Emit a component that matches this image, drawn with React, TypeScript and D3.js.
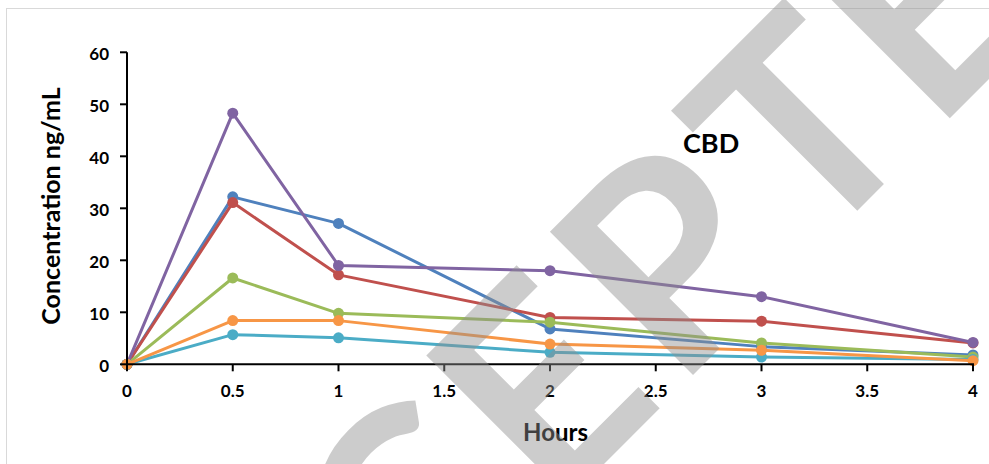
import React from "react";
import * as d3 from "d3";

// ---- data ----
const hours = [0, 0.5, 1, 2, 3, 4];
const seriesBlue = [0, 32.2, 27.1, 6.8, 3.4, 1.8];
const seriesRed = [0, 31.1, 17.2, 9.0, 8.3, 4.1];
const seriesGreen = [0, 16.6, 9.8, 8.1, 4.1, 1.4];
const seriesPurple = [0, 48.3, 19.0, 18.0, 13.0, 4.2];
const seriesCyan = [0, 5.7, 5.1, 2.3, 1.4, 0.9];
const seriesOrange = [0, 8.4, 8.4, 3.9, 2.7, 0.7];
const seriesColors = ["#4F81BD", "#C0504D", "#9BBB59", "#8064A2", "#4BACC6", "#F79646"];
const allSeries = [seriesBlue, seriesRed, seriesGreen, seriesPurple, seriesCyan, seriesOrange];
const xTicks = [0, 0.5, 1, 1.5, 2, 2.5, 3, 3.5, 4];
const yTicks = [0, 10, 20, 30, 40, 50, 60];
const xTitle = "Hours";
const yTitle = "Concentration ng/mL";
const chartLabel = "CBD";
const watermarkLetters = ["C", "E", "P", "T", "E"];

// ---- layout ----
const W = 989;
const H = 464;
const plot = { left: 127, right: 973, top: 52.3, bottom: 364.3 };
const FONT = "Lato, 'Open Sans', sans-serif";
// watermark baseline: x + y = C, positions along baseline (u)
const WM_C = 1068;
const WM_U = [-76, 108, 289, 476, 646];

export default function App() {
  const x = d3.scaleLinear().domain([0, 4]).range([plot.left, plot.right]);
  const y = d3.scaleLinear().domain([0, 60]).range([plot.bottom, plot.top]);
  const line = d3
    .line<number>()
    .x((_, i) => x(hours[i]))
    .y((d) => y(d));

  return (
    <div style={{ position: "absolute", left: 0, top: 0 }}>
      <svg width={W} height={H} style={{ display: "block", background: "#fff" }}>
        <rect x={6.5} y={8.5} width={W + 20} height={H + 20} fill="#fff" stroke="#d9d9d9" strokeWidth={1} />

        {/* series */}
        {allSeries.map((s, si) => (
          <g key={si}>
            <path d={line(s) || ""} fill="none" stroke={seriesColors[si]} strokeWidth={3} strokeLinejoin="round" />
            {s.map((v, i) => (
              <circle key={i} cx={x(hours[i])} cy={y(v)} r={5.5} fill={seriesColors[si]} />
            ))}
          </g>
        ))}

        {/* axes */}
        <line x1={plot.left} x2={plot.left} y1={plot.top} y2={plot.bottom + 1} stroke="#000" strokeWidth={2} />
        <line x1={plot.left - 1} x2={plot.right + 1} y1={plot.bottom} y2={plot.bottom} stroke="#000" strokeWidth={2} />
        {yTicks.map((t) => (
          <g key={"y" + t}>
            <line x1={plot.left - 7} x2={plot.left} y1={y(t)} y2={y(t)} stroke="#000" strokeWidth={2} />
            <text x={109} y={y(t) + 8} textAnchor="end" fontFamily={FONT} fontWeight={700} fontSize={17} fill="#000">
              {t}
            </text>
          </g>
        ))}
        {xTicks.map((t) => (
          <g key={"x" + t}>
            <line x1={x(t)} x2={x(t)} y1={plot.bottom} y2={plot.bottom + 7} stroke="#000" strokeWidth={2} />
            <text x={x(t)} y={397} textAnchor="middle" fontFamily={FONT} fontWeight={700} fontSize={17} fill="#000">
              {t}
            </text>
          </g>
        ))}

        {/* titles */}
        <text x={555.5} y={440.7} textAnchor="middle" fontFamily={FONT} fontWeight={700} fontSize={24} fill="#000">
          {xTitle}
        </text>
        <text
          transform={`translate(60,206) rotate(-90)`}
          textAnchor="middle"
          fontFamily={FONT}
          fontWeight={700}
          fontSize={25}
          fill="#000"
        >
          {yTitle}
        </text>
        <text x={683} y={152.7} fontFamily={FONT} fontWeight={700} fontSize={27} fill="#000">
          {chartLabel}
        </text>

        {/* watermark */}
        <g fill="#8e8e8e" fillOpacity={0.45}>
          {watermarkLetters.map((ch, i) => {
            const u = WM_U[i];
            const bx = WM_C / 2 + u / Math.SQRT2;
            const by = WM_C / 2 - u / Math.SQRT2;
            return (
              <text
                key={i}
                transform={`translate(${bx},${by}) rotate(-45)`}
                textAnchor="middle"
                fontFamily={FONT}
                fontWeight={700}
                fontSize={280}
              >
                {ch}
              </text>
            );
          })}
        </g>
      </svg>
    </div>
  );
}
